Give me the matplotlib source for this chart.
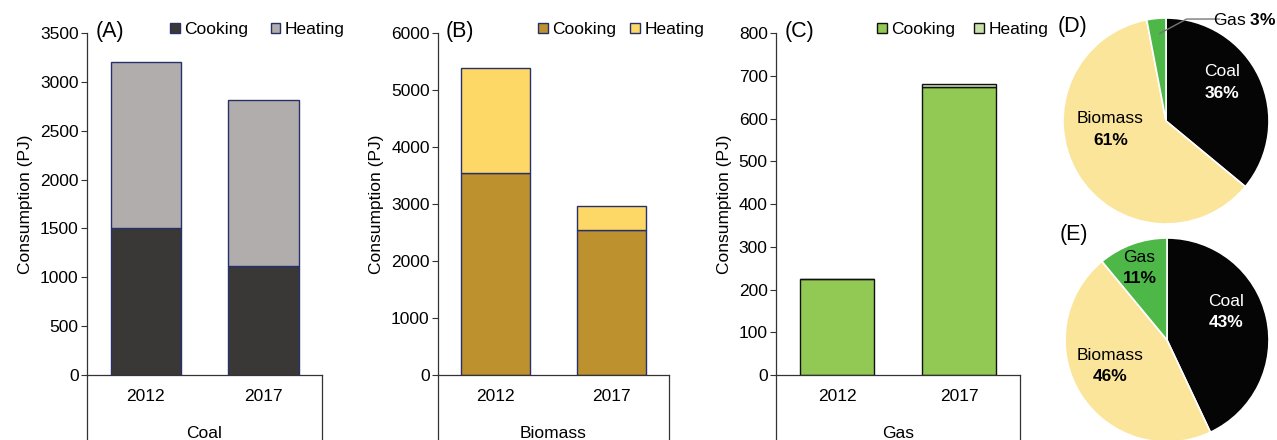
import matplotlib.pyplot as plt
import numpy as np

plt.rcParams['font.family'] = ['Liberation Sans', 'DejaVu Sans']
plt.rcParams['mathtext.fontset'] = 'custom'
plt.rcParams['mathtext.rm'] = 'Liberation Sans'
plt.rcParams['mathtext.bf'] = 'Liberation Sans:bold'

years = ['2012', '2017']

coal_cooking = [1504, 1119]
coal_heating = [1703, 1699]
biomass_cooking = [3544, 2550]
biomass_heating = [1837, 409]
gas_cooking = [224, 674]
gas_heating = [0, 7]

fuels = ['Coal', 'Biomass', 'Gas']
share_2012 = [36, 61, 3]
share_2017 = [43, 46, 11]

W, H = 1277, 440
FS = 12.5
fig = plt.figure(figsize=(W / 100, H / 100), dpi=100)


def px_axes(x0, y0, x1, y1):
    # pixel box (top-left origin) -> figure axes
    return fig.add_axes([x0 / W, 1 - y1 / H, (x1 - x0) / W, (y1 - y0) / H])


def bar_panel(box, cook, heat, ymax, step, colors, edge, label, xlabel, leg_x, colsp):
    ax = px_axes(*box)
    x = np.arange(len(years))
    ax.bar(x, cook, 0.6, color=colors[0], edgecolor=edge, linewidth=1, label='Cooking')
    ax.bar(x, heat, 0.6, bottom=cook, color=colors[1], edgecolor=edge, linewidth=1,
           label='Heating')
    ax.set_xlim(-0.5, 1.5)
    ax.set_ylim(0, ymax)
    ax.set_yticks(np.arange(0, ymax + 1, step))
    ax.set_xticks(x)
    ax.set_xticklabels(years)
    ax.tick_params(axis='x', length=0, pad=10, labelsize=FS)
    ax.tick_params(axis='y', length=4, width=0.8, labelsize=FS, pad=2, color='#333')
    ax.spines['top'].set_visible(False)
    ax.spines['right'].set_visible(False)
    for s in ('left', 'bottom'):
        ax.spines[s].set_color('#333')
        ax.spines[s].set_linewidth(0.9)
    ax.set_ylabel('Consumption (PJ)', fontsize=FS, labelpad=5)
    # category box below the plot
    ax.plot([0, 0], [0, -0.22], transform=ax.transAxes, color='#333', lw=0.9, clip_on=False)
    ax.plot([1, 1], [0, -0.22], transform=ax.transAxes, color='#333', lw=0.9, clip_on=False)
    ax.text(0.5, -0.17, xlabel, transform=ax.transAxes, ha='center', va='center',
            fontsize=FS)
    ax.text(0.035, 1.005, label, transform=ax.transAxes, ha='left', va='center',
            fontsize=15.5)
    ax.legend(loc='center left', bbox_to_anchor=(leg_x, 1.01), ncol=2, frameon=False,
              fontsize=FS, handlelength=0.55, handleheight=0.55, handletextpad=0.25,
              columnspacing=colsp, borderaxespad=0, borderpad=0)
    return ax


bar_panel((87, 33, 322, 375), coal_cooking, coal_heating, 3500, 500,
          ['#3a3836', '#b1adac'], '#28306b', '(A)', 'Coal', 0.355, 1.3)
bar_panel((438, 33, 669, 375), biomass_cooking, biomass_heating, 6000, 1000,
          ['#be912f', '#fdd866'], '#28306b', '(B)', 'Biomass', 0.435, 0.8)
bar_panel((776, 33, 1020, 375), gas_cooking, gas_heating, 800, 100,
          ['#92c854', '#c6e1a9'], '#111111', '(C)', 'Gas', 0.415, 1.1)

pie_colors = ['#050505', '#fbe59b', '#4db748']


def pie_panel(box, shares, label, lx, ly):
    ax = px_axes(*box)
    ax.pie(shares, colors=pie_colors, startangle=90, counterclock=False,
           wedgeprops=dict(edgecolor='white', linewidth=1.2))
    ax.set_xlim(-1, 1)
    ax.set_ylim(-1, 1)
    ax.text(lx, ly, label, ha='left', va='center', fontsize=15.5)
    return ax


def two_line(ax, x, y, name, pct, color):
    ax.text(x, y + 0.1, name, ha='center', va='center', fontsize=FS, color=color)
    ax.text(x, y - 0.11, f'{pct}%', ha='center', va='center', fontsize=FS,
            color=color, fontweight='bold')


axd = pie_panel((1063, 18, 1269, 224), share_2012, '(D)', -1.05, 0.92)
two_line(axd, 0.54, 0.38, fuels[0], share_2012[0], 'white')
two_line(axd, -0.54, -0.08, fuels[1], share_2012[1], 'black')
axd.plot([-0.06, 0.2, 0.52], [0.85, 0.99, 0.99], color='#777', lw=1, clip_on=False)
axd.text(1.07, 0.98, fuels[2] + r' $\mathbf{' + str(share_2012[2]) + r'\%}$',
         ha='right', va='center', fontsize=FS, clip_on=False)

axe = pie_panel((1065, 238, 1269, 442), share_2017, '(E)', -1.05, 1.03)
two_line(axe, 0.58, 0.28, fuels[0], share_2017[0], 'white')
two_line(axe, -0.56, -0.25, fuels[1], share_2017[1], 'black')
two_line(axe, -0.27, 0.71, fuels[2], share_2017[2], 'black')

fig.savefig('out.png', dpi=100)
